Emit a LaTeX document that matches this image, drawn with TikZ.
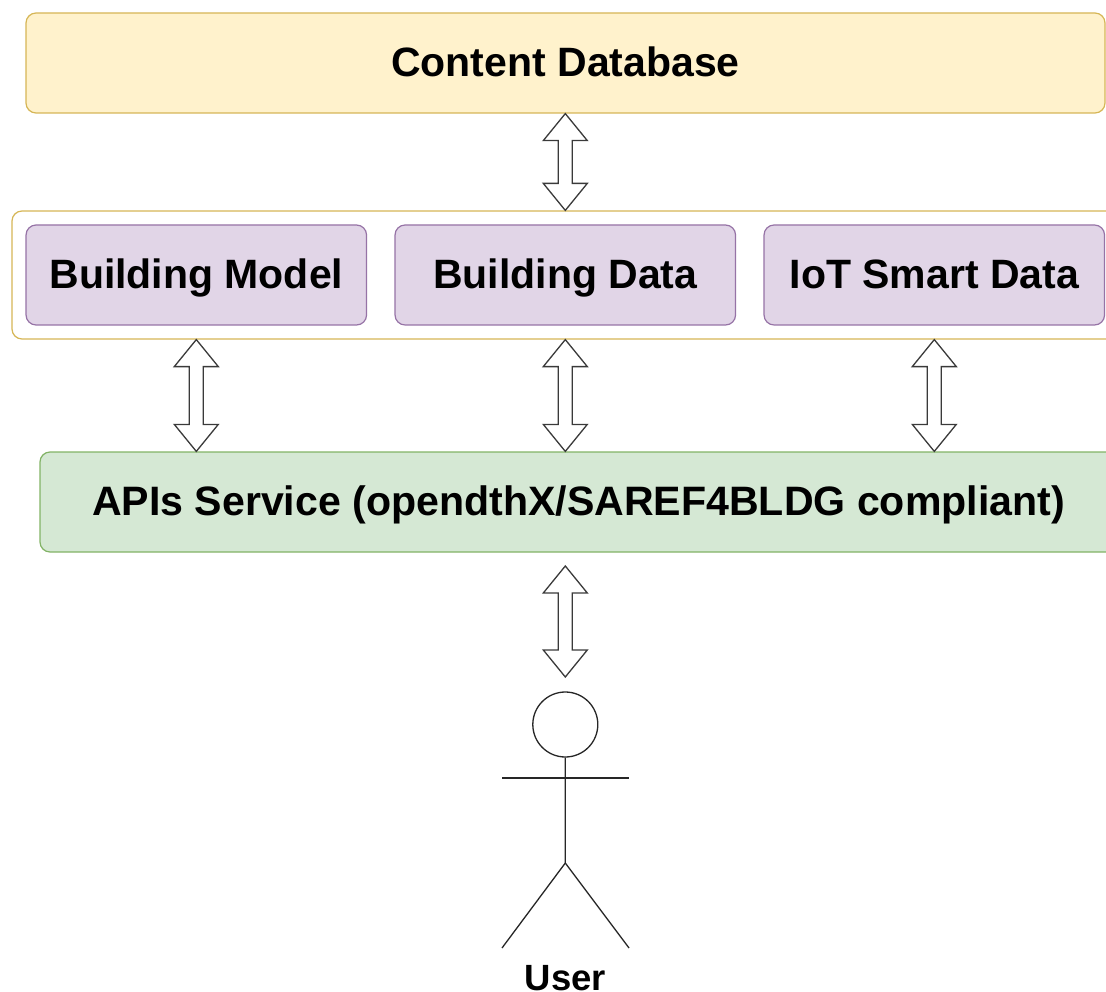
\documentclass[tikz,border=0pt]{standalone}
\usepackage{fontspec}
\setmainfont{Liberation Sans}
\usetikzlibrary{calc}
\definecolor{ylwfill}{HTML}{FFF2CC}
\definecolor{ylwline}{HTML}{D6B656}
\definecolor{purfill}{HTML}{E1D5E7}
\definecolor{purline}{HTML}{9673A6}
\definecolor{grnfill}{HTML}{D5E8D4}
\definecolor{grnline}{HTML}{82B366}
\definecolor{inkline}{HTML}{3A3A3A}
\tikzset{
  box/.style={draw,line width=1.2pt,rounded corners=10pt,inner sep=0pt,text height=36pt,text depth=8pt,font=\fontsize{41}{48}\selectfont\bfseries,text=black},
  dbbox/.style={box,fill=ylwfill,draw=ylwline,minimum width=1079pt,minimum height=100pt},
  grpbox/.style={box,draw=ylwline,fill=white,minimum width=1106pt,minimum height=128pt},
  databox/.style={box,fill=purfill,draw=purline,minimum width=340.5pt,minimum height=100pt},
  apibox/.style={box,fill=grnfill,draw=grnline,minimum width=1077pt,minimum height=100pt,text height=35pt,text depth=9pt,font=\fontsize{41.1}{48}\selectfont\bfseries},
  wide/.style={draw=inkline,line width=1.3pt,fill=white,line join=miter},
  stick/.style={draw=black!85,line width=1.3pt},
}
\newcommand{\widearrow}[2]{%
  \draw[wide] let \p1=(#1),\p2=(#2) in
    (\x1,\y1) -- (\x1+22pt,\y1-27pt) -- (\x1+7pt,\y1-27pt) -- (\x1+7pt,\y2+27pt) -- (\x1+22pt,\y2+27pt)
    -- (\x2,\y2) -- (\x1-22pt,\y2+27pt) -- (\x1-7pt,\y2+27pt) -- (\x1-7pt,\y1-27pt) -- (\x1-22pt,\y1-27pt) -- cycle;}
\begin{document}
\begin{tikzpicture}[x=1pt,y=-1pt]
\useasboundingbox (0,0) rectangle (1106,992);
\clip (0,0) rectangle (1106,992);
\node[dbbox] (cdb) at (565.5,63) {Content Database};
\node[grpbox] (grp) at (565,275) {};
\node[databox] (mod) at (196.3,275) {Building Model};
\node[databox] (dat) at (565.3,275) {Building Data};
\node[databox] (iot) at (934.3,275) {IoT Smart Data};
\node[apibox] (api) at (578.5,502) {APIs Service (opendthX/SAREF4BLDG compliant)};
\node[circle,stick,minimum size=65pt,inner sep=0pt] (head) at (565.3,724.5) {};
\coordinate (neck) at (565.3,778);
\coordinate (armL) at (502,778);
\coordinate (armR) at (629,778);
\coordinate (hip) at (565.3,863);
\coordinate (footL) at (502,948);
\coordinate (footR) at (629,948);
\node[anchor=base,inner sep=0pt,font=\fontsize{36.5}{40}\selectfont\bfseries] (usr) at (565.3,990) {User};
\draw[stick] (head.south) -- (neck) -- (hip) -- (footL);
\draw[stick] (hip) -- (footR);
\draw[stick] (armL) -- (armR);
\coordinate (a1t) at (dat.north |- cdb.south);
\coordinate (a1b) at (dat.north |- grp.north);
\widearrow{a1t}{a1b}
\coordinate (a2t) at (mod.south |- grp.south);
\coordinate (a2b) at (mod.south |- api.north);
\widearrow{a2t}{a2b}
\coordinate (a3t) at (dat.south |- grp.south);
\coordinate (a3b) at (dat.south |- api.north);
\widearrow{a3t}{a3b}
\coordinate (a4t) at (iot.south |- grp.south);
\coordinate (a4b) at (iot.south |- api.north);
\widearrow{a4t}{a4b}
\coordinate (a5t) at (565.3,566);
\coordinate (a5b) at (565.3,677);
\widearrow{a5t}{a5b}
\end{tikzpicture}
\end{document}
